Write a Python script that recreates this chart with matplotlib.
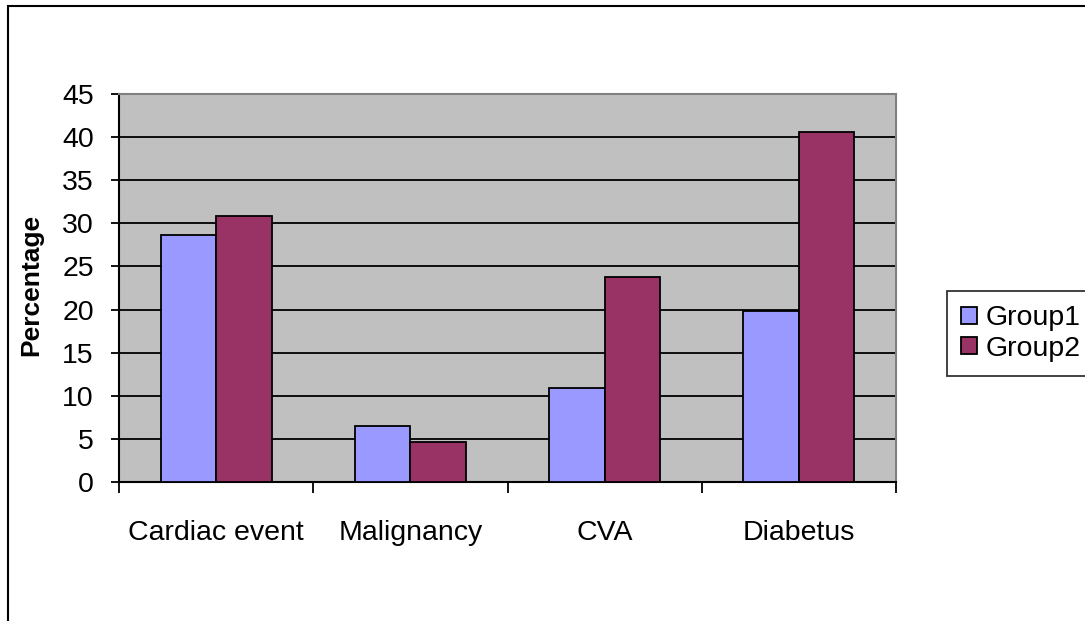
import matplotlib
matplotlib.use('Agg')
import matplotlib.pyplot as plt
import numpy as np
from matplotlib.patches import Rectangle

plt.rcParams['font.family'] = ['Liberation Sans', 'DejaVu Sans']

# data
categories = ['Cardiac event', 'Malignancy', 'CVA', 'Diabetus']
group1 = [28.7, 6.5, 10.9, 19.8]
group2 = [30.8, 4.6, 23.8, 40.6]

fig = plt.figure(figsize=(10.85, 6.21), dpi=100)
ax = fig.add_axes([119 / 1085, 1 - 482 / 621, (896 - 119) / 1085, (482 - 94) / 621])

x = np.arange(len(categories))
bar_width = 1 / 3.5  # excel gap width 150%
ax.bar(x - bar_width / 2, group1, width=bar_width, color='#9999FF', edgecolor='black',
       linewidth=1.3, label='Group1', zorder=3)
ax.bar(x + bar_width / 2, group2, width=bar_width, color='#993366', edgecolor='black',
       linewidth=1.3, label='Group2', zorder=3)

ax.set_facecolor('#C0C0C0')
ax.set_xlim(-0.5, len(categories) - 0.5)
ax.set_ylim(0, 45)
ax.set_yticks(np.arange(0, 46, 5))
ax.yaxis.grid(True, color='black', linewidth=1.3, zorder=1)
ax.set_axisbelow(True)

ax.set_xticks(x)
ax.set_xticklabels(categories)
ax.set_xticks(np.arange(-0.5, len(categories), 1), minor=True)
ax.tick_params(axis='x', which='major', length=0, pad=27, labelsize=20.5)
ax.tick_params(axis='x', which='minor', length=8, width=1.3, direction='out')
ax.tick_params(axis='y', length=6, width=1.3, direction='out', pad=12, labelsize=20.5)

for s in ['left', 'bottom']:
    ax.spines[s].set_color('black')
    ax.spines[s].set_linewidth(1.5)
for s in ['top', 'right']:
    ax.spines[s].set_color('#808080')
    ax.spines[s].set_linewidth(1.5)

ax.set_ylabel('Percentage', fontsize=19, fontweight='bold')
ax.yaxis.set_label_coords(-0.098, 0.508)

leg = fig.legend(loc='upper left', bbox_to_anchor=(947 / 1085, 1 - 291 / 621),
                 fontsize=20.5, frameon=True, fancybox=False, edgecolor='black',
                 handlelength=0.55, handleheight=0.55, handletextpad=0.3,
                 labelspacing=0.15, borderpad=0.5, borderaxespad=0)
leg.get_frame().set_linewidth(1.3)

# outer chart border (runs off the right and bottom edges)
fig.patches.append(Rectangle((8 / 1085, -0.1), 1.2, 1 - 6 / 621 + 0.1,
                             transform=fig.transFigure, fill=False,
                             edgecolor='black', linewidth=1.5))

fig.savefig('out.png', dpi=100)
